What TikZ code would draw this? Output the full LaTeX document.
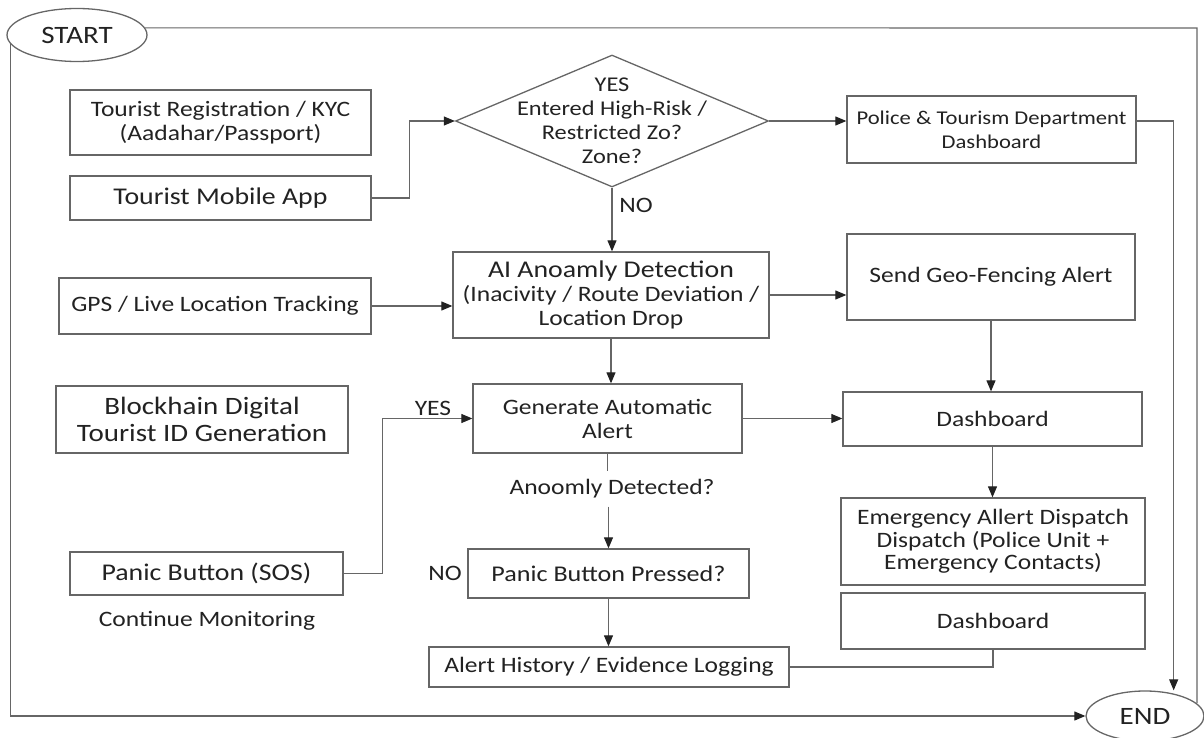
\documentclass[tikz,border=0pt]{standalone}
\usepackage{fontspec}
\setmainfont{Carlito}[FakeStretch=1.16]
\usetikzlibrary{shapes.geometric,arrows.meta}
\definecolor{linegray}{HTML}{666666}
\definecolor{inkgray}{HTML}{222222}
\newcommand{\bigtext}{\fontsize{24}{27}\selectfont}
\begin{document}
\begin{tikzpicture}[x=1pt,y=-1pt,
    box/.style={draw=linegray,line width=1.3pt,text=inkgray,align=center,inner sep=2pt,font=\fontsize{22}{24}\selectfont},
    term/.style={ellipse,draw=linegray,line width=1.3pt,text=inkgray,inner sep=0pt,font=\fontsize{25}{27}\selectfont},
    note/.style={text=inkgray,align=center,inner sep=1pt,font=\fontsize{22}{24}\selectfont},
    arr/.style={draw=linegray,line width=1.1pt,-{Triangle[length=11pt,width=9pt,color=inkgray]}},
    wire/.style={draw=linegray,line width=1.1pt}]
  \useasboundingbox (0,0) rectangle (1204,738);
  \draw
    (77,35) node[term,minimum width=140pt,minimum height=53pt] (start){START}
    (1145,716) node[term,minimum width=118pt,minimum height=50pt] (end){END}
    (220.5,122.5) node[box,minimum width=301pt,minimum height=65pt] (reg){Tourist Registration / KYC\\(Aadahar/Passport)}
    (220.5,198) node[box,minimum width=301pt,minimum height=44pt,font=\bigtext] (app){Tourist Mobile App}
    (612,121) node[diamond,draw=linegray,line width=1.3pt,minimum width=313pt,minimum height=132pt,inner sep=0pt] (zone){}
    (612,121) node[note,font=\fontsize{21}{24}\selectfont] (zonetext){YES\\Entered High-Risk /\\Restricted Zo?\\Zone?}
    (991.5,129.5) node[box,minimum width=289pt,minimum height=67pt,font=\fontsize{19.5}{24}\selectfont] (police){Police \& Tourism Department\\Dashboard}
    (636,205) node[note] (nozone){NO}
    (215,306) node[box,minimum width=312pt,minimum height=56pt] (gps){GPS / Live Location Tracking}
    (611,295) node[box,minimum width=316pt,minimum height=86pt] (ai){{\bigtext AI Anoamly Detection}\\(Inacivity / Route Deviation /\\Location Drop}
    (991,277) node[box,minimum width=288pt,minimum height=86pt] (geo){Send Geo-Fencing Alert}
    (202,419.5) node[box,minimum width=292pt,minimum height=67pt,font=\fontsize{25}{27}\selectfont] (block){Blockhain Digital\\Tourist ID Generation}
    (607.5,418.5) node[box,minimum width=269pt,minimum height=69pt] (gaa){Generate Automatic\\Alert}
    (433,408) node[note] (yessos){YES}
    (992.5,419) node[box,minimum width=299pt,minimum height=54pt] (dash1){Dashboard}
    (612,489) node[note,inner ysep=8pt] (anom){Anoomly Detected?}
    (993,541.5) node[box,minimum width=304pt,minimum height=87pt,font=\fontsize{22}{22.5}\selectfont] (emerg){Emergency Allert Dispatch\\Dispatch (Police Unit +\\Emergency Contacts)}
    (206.5,573.5) node[box,minimum width=273pt,minimum height=43pt,font=\bigtext] (sos){Panic Button (SOS)}
    (445,573) node[note] (nopanic){NO}
    (608.5,573.5) node[box,minimum width=281pt,minimum height=49pt,font=\fontsize{22.5}{24}\selectfont] (pbp){Panic Button Pressed?}
    (207,621) node[note] (cont){Continue Monitoring}
    (993,621) node[box,minimum width=304pt,minimum height=56pt] (dash2){Dashboard}
    (609,667) node[box,minimum width=360pt,minimum height=40pt] (ahl){Alert History / Evidence Logging};
  \coordinate (tr) at (1197,28);
  \draw[wire] (start.6) -- (tr) -- (tr |- end.14);
  \draw[arr] (start.188) |- (end.west);
  \begin{scope}[arr]
    \draw (app.east) -- ++(38,0) |- (zone.west);
    \draw (zone.east) -- (zone.east -| police.west);
    \draw (police.east |- zone.east) -- ++(37,0) coordinate (pr) -- (pr |- end.north);
    \draw (zone.south) -- (zone.south |- ai.north);
    \draw (gps.east) -- (gps.east -| ai.west);
    \draw (ai.east) -- (ai.east -| geo.west);
    \draw (ai.south) -- (ai.south |- gaa.north);
    \draw (geo.south) -- (geo.south |- dash1.north);
    \draw (gaa.east) -- (gaa.east -| dash1.west);
    \draw (dash1.south) -- (dash1.south |- emerg.north);
    \draw (sos.east) -- ++(39,0) |- (gaa.west);
    \draw (pbp.north |- anom.south) -- (pbp.north);
    \draw (pbp.south) -- (pbp.south |- ahl.north);
  \end{scope}
  \draw[wire] (gaa.south) -- (gaa.south |- anom.north);
  \draw[wire] (dash2.south) |- (ahl.east);
\end{tikzpicture}
\end{document}
